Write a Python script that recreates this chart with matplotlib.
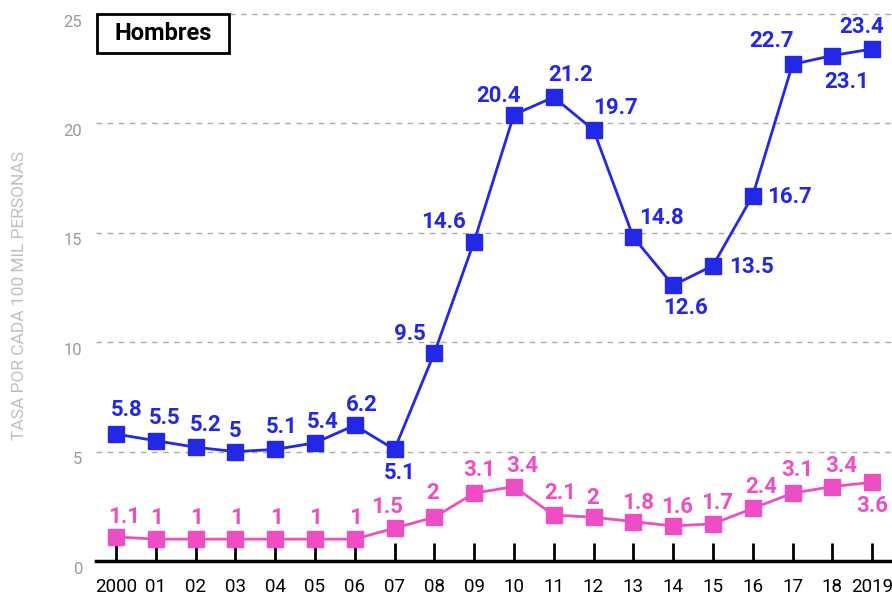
import matplotlib.pyplot as plt
from matplotlib.patches import Rectangle

years = list(range(2000, 2020))
year_labels = ["2000", "01", "02", "03", "04", "05", "06", "07", "08", "09",
               "10", "11", "12", "13", "14", "15", "16", "17", "18", "2019"]
blue_vals = [5.8, 5.5, 5.2, 5, 5.1, 5.4, 6.2, 5.1, 9.5, 14.6,
             20.4, 21.2, 19.7, 14.8, 12.6, 13.5, 16.7, 22.7, 23.1, 23.4]
pink_vals = [1.1, 1, 1, 1, 1, 1, 1, 1.5, 2, 3.1,
             3.4, 2.1, 2, 1.8, 1.6, 1.7, 2.4, 3.1, 3.4, 3.6]

# label offsets in pixels (dx, dy), y up
blue_off = [(11, 24), (9, 23), (10, 22), (0, 21), (7, 22), (8, 21), (7, 20), (5, -24),
            (-24, 19), (-31, 20), (-15, 19), (17, 22), (22, 22), (28, 19), (12, -23),
            (39, -1), (37, -1), (-21, 23), (14, -26), (-10, 22)]
pink_off = [(8, 20), (1, 21), (1, 21), (1, 21), (1, 21), (1, 21), (1, 21), (-7, 21),
            (-2, 24), (5, 23), (8, 21), (7, 22), (-1, 19), (5, 19), (4, 19),
            (4, 21), (8, 21), (5, 23), (9, 21), (0, -24)]

BLUE = "#2228E6"
PINK = "#EE4EC4"
plt.rcParams['font.family'] = ['Roboto', 'DejaVu Sans']

fig = plt.figure(figsize=(8.92, 5.98), dpi=100)
ax = fig.add_axes([96 / 892, 37 / 598, 796 / 892, 561 / 598])
x = list(range(len(years)))

ax.plot(x, blue_vals, color=BLUE, lw=2, marker="s", ms=11.5, zorder=3)
ax.plot(x, pink_vals, color=PINK, lw=2, marker="s", ms=11.5, zorder=3)

def fmt(v):
    return ("%g" % v)

for i, v in enumerate(blue_vals):
    ax.annotate(fmt(v), (x[i], v), xytext=blue_off[i], textcoords="offset pixels",
                ha="center", va="center", color=BLUE, fontsize=16, fontweight="bold",
                zorder=4)
for i, v in enumerate(pink_vals):
    ax.annotate(fmt(v), (x[i], v), xytext=pink_off[i], textcoords="offset pixels",
                ha="center", va="center", color=PINK, fontsize=16, fontweight="bold",
                zorder=4)

ax.set_xlim(-0.5, 19.5)
ax.set_ylim(0, 25.64)
for g in [5, 10, 15, 20, 25]:
    ax.axhline(g, color="#aaaaaa", lw=1, ls=(0, (4, 4)), zorder=1)

ax.set_xticks(x)
ax.set_xticklabels(year_labels, fontsize=13.5, color="black")
ax.tick_params(axis="x", direction="in", length=13, width=2, pad=12, color="black")
ax.set_yticks([0, 5, 10, 15, 20, 25])
ax.set_yticklabels([])
ax.tick_params(axis="y", length=0)
for t in [0, 5, 10, 15, 20, 25]:
    ax.annotate(str(t), (0, t), xycoords=("axes fraction", "data"), xytext=(-14, -8),
                textcoords="offset pixels", ha="right", va="center",
                color="#9a9a9a", fontsize=12, annotation_clip=False)

for s in ["top", "right", "left"]:
    ax.spines[s].set_visible(False)
ax.spines["bottom"].set_linewidth(2.5)
ax.spines["bottom"].set_color("black")

fig.text(20 / 892, 1 - 295 / 598, "TASA POR CADA 100 MIL PERSONAS", rotation=90,
         ha="center", va="center", color="#c0c0c0", fontsize=12.5)

# title box
fig.patches.append(Rectangle((97 / 892, 1 - 53 / 598), 132 / 892, 39 / 598,
                             transform=fig.transFigure, fc="white", ec="black",
                             lw=2, zorder=5))
fig.text(163 / 892, 1 - 34 / 598, "Hombres", ha="center", va="center",
         fontsize=17, fontweight="bold", color="black", zorder=6)

fig.savefig("out.png", dpi=100)
